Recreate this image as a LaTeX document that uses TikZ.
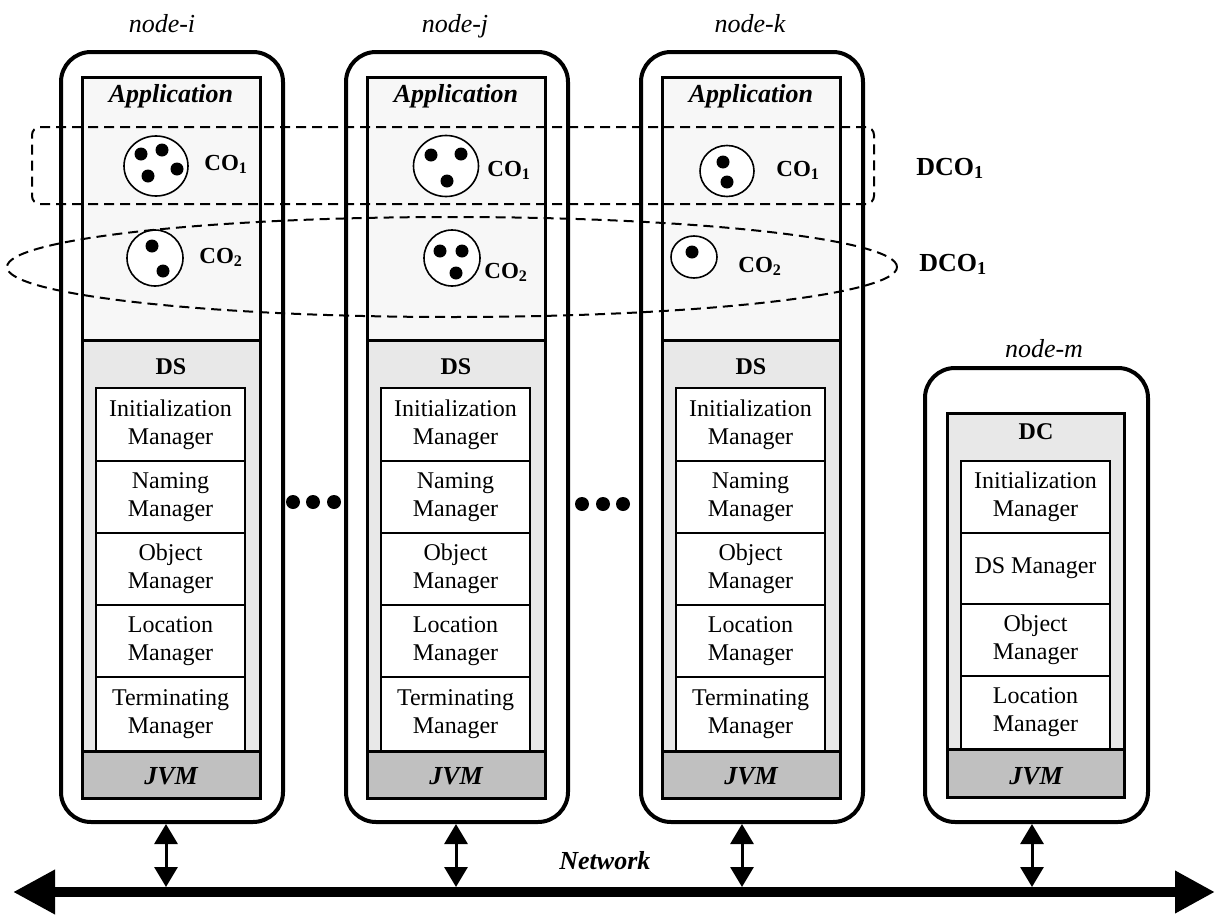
\documentclass[tikz,border=0pt]{standalone}
\usepackage{fontspec}
\setmainfont{Liberation Serif}
\usetikzlibrary{arrows.meta,fit,shapes.geometric}
\definecolor{appfill}{HTML}{F7F7F7}
\definecolor{dsfill}{HTML}{E8E8E8}
\definecolor{jvmfill}{HTML}{C0C0C0}
\begin{document}
\begin{tikzpicture}[x=0.5pt, y=-0.5pt,
  host/.style={draw, line width=2pt, rounded corners=15pt, inner sep=0pt},
  appbox/.style={draw, line width=1.5pt, fill=appfill, inner sep=0pt},
  svcbox/.style={draw, line width=1.5pt, fill=dsfill, inner sep=0pt},
  vmbox/.style={draw, line width=1.5pt, fill=jvmfill, inner sep=0pt},
  mgr/.style={draw, line width=1pt, fill=white, inner sep=0pt},
  mgrtext/.style={inner sep=0pt, align=center, font=\fontsize{12}{14}\selectfont},
  apptitle/.style={inner sep=0pt, font=\fontsize{13}{15}\selectfont\bfseries\itshape},
  layertitle/.style={inner sep=0pt, font=\fontsize{12}{14}\selectfont\bfseries},
  hostname/.style={inner sep=0pt, anchor=base, font=\fontsize{13}{15}\selectfont\itshape},
  obj/.style={draw, ellipse, line width=0.8pt, fill=white, inner sep=0pt},
  elem/.style={circle, fill=black, inner sep=0pt, minimum size=6.5pt},
  objlabel/.style={inner sep=0pt, anchor=base west, font=\fontsize{11.5}{13}\selectfont\bfseries},
  grouplabel/.style={inner sep=0pt, anchor=base west, font=\fontsize{13}{15}\selectfont\bfseries},
  dcogroup/.style={draw, line width=1pt, dash pattern=on 5pt off 3pt, inner sep=0pt},
  gapdot/.style={circle, fill=black, inner sep=0pt, minimum size=7pt},
  netlink/.style={line width=1.5pt, {Triangle[length=10pt,width=11.5pt]}-{Triangle[length=10pt,width=11.5pt]}},
  bus/.style={line width=5pt, {Triangle[length=21pt,width=21pt]}-{Triangle[length=20pt,width=20pt]}}
]
\useasboundingbox (0,0) rectangle (1223,916);

% ---------- hosts running a DS ----------
\foreach \h/\L/\hx/\lab in {i/61/162/node-i, j/346/455/node-j, k/641/750/node-k} {
  \node[host, fit={(\L,52) (\L+222,822)}] (\h) {};
  \node[hostname] (\h-name) at (\hx,32) {\lab};
  \node[appbox, fit={(\L+21,77) (\L+199,340)}] (\h-app) {};
  \node[apptitle, anchor=base] (\h-apptxt) at (\L+110,102) {Application};
  \node[svcbox, fit={(\L+21,340) (\L+199,751)}] (\h-ds) {};
  \node[layertitle] (\h-dstxt) at (\L+110,367) {DS};
  \foreach \ytop/\ybot/\txt [count=\n] in {388/461/{Initialization\\Manager},
      461/533/{Naming\\Manager}, 533/605/{Object\\Manager},
      605/677/{Location\\Manager}, 677/751/{Terminating\\Manager}} {
    \node[mgr, fit={(\L+35,\ytop) (\L+184,\ybot)}] (\h-m\n) {};
    \node[mgrtext] at (\h-m\n.center) {\txt};
  }
  \node[vmbox, fit={(\L+21,751) (\L+199,798)}] (\h-jvm) {};
  \node[apptitle] (\h-jvmtxt) at (\L+110,776) {JVM};
}

% ---------- host running the DC ----------
\node[host, fit={(925,368) (1148,822)}] (m) {};
\node[hostname] (m-name) at (1044,357) {node-m};
\node[svcbox, fit={(947,413) (1124,749)}] (m-dc) {};
\node[layertitle] (m-dctxt) at (1036,432) {DC};
\foreach \ytop/\ybot/\txt [count=\n] in {461/533/{Initialization\\Manager},
    533/604/{DS Manager}, 604/676/{Object\\Manager}, 676/749/{Location\\Manager}} {
  \node[mgr, fit={(961,\ytop) (1110,\ybot)}] (m-m\n) {};
  \node[mgrtext] at (m-m\n.center) {\txt};
}
\node[vmbox, fit={(947,749) (1124,797)}] (m-jvm) {};
\node[apptitle] (m-jvmtxt) at (1036,776) {JVM};

% ---------- component objects ----------
% node-i
\node[obj, minimum width=32pt, minimum height=30pt] (i-co1) at (156,166) {};
\foreach \px/\py [count=\n] in {141/154, 162/150, 148/176, 177/169}
  \node[elem] (i-co1-\n) at (\px,\py) {};
\node[objlabel] (i-co1txt) at (204,170) {CO\textsubscript{1}};
\node[obj, minimum width=28pt, minimum height=28pt] (i-co2) at (155,258) {};
\foreach \px/\py [count=\n] in {152/246, 163/271}
  \node[elem] (i-co2-\n) at (\px,\py) {};
\node[objlabel] (i-co2txt) at (199,263) {CO\textsubscript{2}};
% node-j
\node[obj, minimum width=32.5pt, minimum height=30.5pt] (j-co1) at (446,166) {};
\foreach \px/\py [count=\n] in {431/155, 461/154, 447/181}
  \node[elem] (j-co1-\n) at (\px,\py) {};
\node[objlabel] (j-co1txt) at (487,176) {CO\textsubscript{1}};
\node[obj, minimum width=28pt, minimum height=28pt] (j-co2) at (452,258) {};
\foreach \px/\py [count=\n] in {440/251, 462/251, 456/273}
  \node[elem] (j-co2-\n) at (\px,\py) {};
\node[objlabel] (j-co2txt) at (484,278) {CO\textsubscript{2}};
% node-k
\node[obj, minimum width=27pt, minimum height=25.5pt] (k-co1) at (727,171) {};
\foreach \px/\py [count=\n] in {723/162, 727/182}
  \node[elem] (k-co1-\n) at (\px,\py) {};
\node[objlabel] (k-co1txt) at (776,176) {CO\textsubscript{1}};
\node[obj, minimum width=23pt, minimum height=21pt] (k-co2) at (694,257) {};
\node[elem] (k-co2-1) at (692,252) {};
\node[objlabel] (k-co2txt) at (738,272) {CO\textsubscript{2}};

% ---------- distributed component objects ----------
\node[dcogroup, rounded corners=4pt, fit={(32,127) (874,204)}] (dco1) {};
\node[dcogroup, ellipse, minimum width=445pt, minimum height=50pt] (dco2) at (452,267) {};
\node[grouplabel] (dco1txt) at (916,175) {DCO\textsubscript{1}};
\node[grouplabel] (dco2txt) at (919,271) {DCO\textsubscript{1}};

% ---------- elided hosts ----------
\foreach \px [count=\n] in {293, 313, 334}
  \node[gapdot] (gapa\n) at (\px,502) {};
\foreach \px [count=\n] in {582, 603, 623}
  \node[gapdot] (gapb\n) at (\px,504) {};

% ---------- network ----------
\coordinate (busL) at (13,892);
\coordinate (busR) at (1215,892);
\draw[bus] (busL) -- (busR);
\node[apptitle, anchor=base west] (net) at (559,869) {Network};
\coordinate (ti) at (166,887);
\coordinate (tj) at (456,887);
\coordinate (tk) at (742,887);
\coordinate (tm) at (1032,887);
\draw[netlink] (ti |- i.south) -- (ti);
\draw[netlink] (tj |- j.south) -- (tj);
\draw[netlink] (tk |- k.south) -- (tk);
\draw[netlink] (tm |- m.south) -- (tm);
\end{tikzpicture}
\end{document}
